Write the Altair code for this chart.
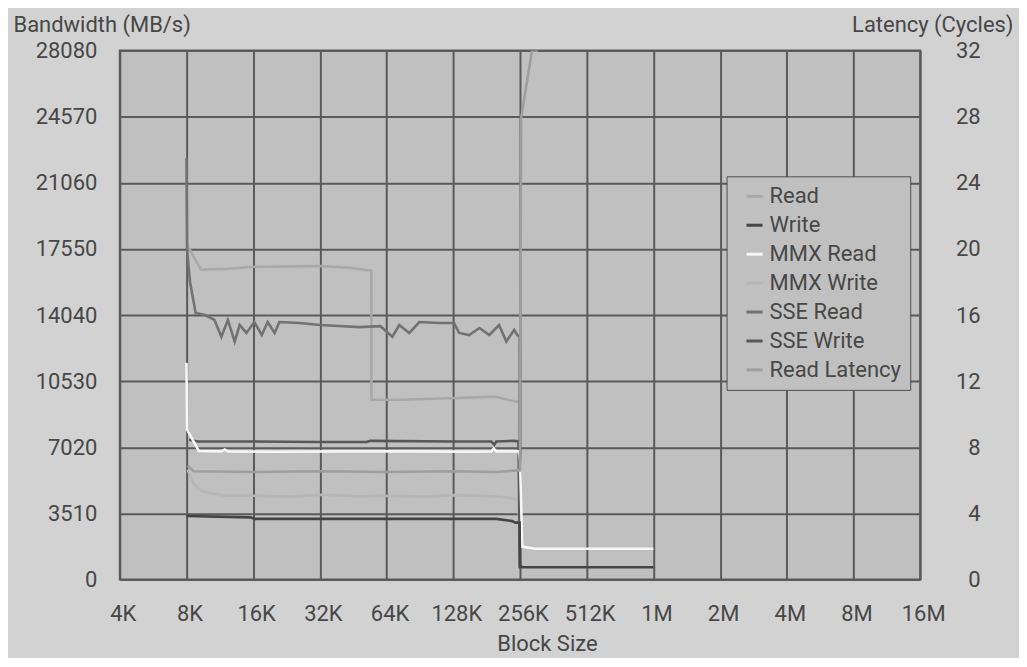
import altair as alt
import pandas as pd

# ---------------- data ----------------
series_names = ["Read", "Write", "MMX Read", "MMX Write", "SSE Read", "SSE Write", "Read Latency"]
series_colors = ["#a8a8a8", "#444444", "#f6f6f6", "#b6b6b6", "#727272", "#585858", "#9e9e9e"]

x_ticks_kb = [4, 8, 16, 32, 64, 128, 256, 512, 1024, 2048, 4096, 8192, 16384]
bw_ticks = [0, 3510, 7020, 10530, 14040, 17550, 21060, 24570, 28080]
lat_ticks = [0, 4, 8, 12, 16, 20, 24, 28, 32]

# Read bandwidth (MB/s)
read_kb = [8.2, 9.3, 12.5, 15.9, 23.3, 31.9, 43.5, 52.5, 54.6, 54.7, 73, 123, 196, 244, 255, 256, 262]
read_mbs = [17600, 16450, 16500, 16600, 16620, 16640, 16550, 16420, 16400, 9540, 9540, 9620, 9710, 9450, 9450, 700, 680]

# Write bandwidth (MB/s)
write_kb = [8.0, 15.5, 16.3, 40, 100, 200, 236, 244, 255, 256, 262, 1024]
write_mbs = [3370, 3300, 3220, 3220, 3220, 3220, 3100, 3020, 3020, 650, 650, 650]

# MMX Read bandwidth (MB/s)
mmx_read_kb = [8.0, 8.05, 8.5, 9.1, 11.5, 11.9, 12.3, 20, 40, 80, 150, 190, 195, 200, 252, 255, 256, 262, 300, 1024]
mmx_read_mbs = [11500, 7950, 7450, 6820, 6800, 6900, 6800, 6780, 6800, 6800, 6790, 6800, 6950, 6800, 6800, 6600, 6400, 1750, 1630, 1630]

# MMX Write bandwidth (MB/s)
mmx_write_kb = [8.1, 8.6, 9.3, 10.5, 12, 16, 24, 32, 48, 64, 96, 128, 192, 240, 252, 256, 262]
mmx_write_mbs = [5830, 5100, 4700, 4560, 4450, 4450, 4400, 4500, 4420, 4450, 4400, 4480, 4420, 4300, 4150, 700, 680]

# SSE Read bandwidth (MB/s)
sse_read_kb = [8.0, 8.05, 8.3, 8.8, 9.7, 10.7, 11.5, 12.3, 13.2, 13.9, 14.9, 16.2, 17.5, 18.6, 20.0, 21.0,
               25.9, 31.9, 39.2, 48.3, 60, 68, 73, 81, 90, 111, 129, 136, 151, 168, 186, 206, 222, 241,
               249, 255, 256, 262]
sse_read_mbs = [22360, 17480, 15800, 14150, 14040, 13780, 12890, 13780, 12630, 13510, 13090, 13670, 12980,
                13670, 13090, 13670, 13620, 13510, 13460, 13400, 13450, 12890, 13510, 13090, 13670, 13620,
                13620, 13090, 12980, 13350, 12980, 13510, 12630, 13250, 12980, 12900, 700, 680]

# SSE Write bandwidth (MB/s)
sse_write_kb = [8.2, 9.0, 16, 32, 52, 54, 128, 190, 196, 200, 240, 252, 256, 262]
sse_write_mbs = [7420, 7330, 7330, 7300, 7300, 7360, 7330, 7330, 7150, 7330, 7360, 7330, 700, 680]

# Read latency (cycles)
lat_kb = [8.1, 8.6, 16, 32, 64, 128, 200, 250, 256, 259, 290, 305, 320, 1024]
lat_cycles = [6.9, 6.55, 6.5, 6.55, 6.5, 6.55, 6.5, 6.6, 6.6, 27.9, 32, 32, 40, 40]

# ---------------- tables ----------------
bw_rows = []
for name, kbs, vals in [
    ("Read", read_kb, read_mbs),
    ("MMX Write", mmx_write_kb, mmx_write_mbs),
    ("SSE Read", sse_read_kb, sse_read_mbs),
    ("SSE Write", sse_write_kb, sse_write_mbs),
    ("MMX Read", mmx_read_kb, mmx_read_mbs),
    ("Write", write_kb, write_mbs),
]:
    for i, (k, v) in enumerate(zip(kbs, vals)):
        bw_rows.append({"series": name, "kb": k, "val": v, "idx": i})
bw_df = pd.DataFrame(bw_rows)

lat_df = pd.DataFrame({"series": "Read Latency", "kb": lat_kb, "val": lat_cycles,
                       "idx": list(range(len(lat_kb)))})

FONT = "Roboto"
FS = 22
TXT = "#474747"
GRID = "#5a5a5a"

x_scale = alt.Scale(type="log", base=2, domain=[4, 16384], nice=False)

x_axis = alt.Axis(values=x_ticks_kb, grid=True, gridColor=GRID, gridWidth=2, gridOpacity=1,
                  ticks=False, tickSize=0, domain=False, labelFlush=False, labelOverlap=False,
                  labelExpr="datum.value >= 1024 ? (datum.value / 1024) + 'M' : datum.value + 'K'",
                  labelFont=FONT, labelFontSize=FS, labelColor=TXT,
                  labelBaseline="alphabetic", labelPadding=41, labelOffset=3,
                  title="Block Size", titleFont=FONT, titleFontSize=FS, titleFontWeight="normal",
                  titleColor=TXT, titleX=428, titleY=71, titleAlign="center",
                  titleBaseline="alphabetic")

color_enc = alt.Color(
    "series:N",
    scale=alt.Scale(domain=series_names, range=series_colors),
    legend=alt.Legend(
        title=None, orient="none", legendX=608, legendY=126,
        symbolType="stroke", symbolSize=260, symbolStrokeWidth=3,
        symbolOffset=8, labelOffset=4,
        labelFont=FONT, labelFontSize=FS, labelColor=TXT,
        fillColor="#c0c0c0", strokeColor="#4e4e4e",
        padding=9, rowPadding=7,
    ),
)

bw = alt.Chart(bw_df).mark_line(strokeWidth=2.6, clip=True).encode(
    x=alt.X("kb:Q", scale=x_scale, axis=x_axis),
    y=alt.Y("val:Q", scale=alt.Scale(domain=[0, 28080], nice=False),
            axis=alt.Axis(values=bw_ticks, format="d", grid=True, gridColor=GRID, gridWidth=2,
                          gridOpacity=1, ticks=False, tickSize=0, domain=False, labelOverlap=False,
                          labelFont=FONT, labelFontSize=FS, labelColor=TXT, labelPadding=23,
                          title="Bandwidth (MB/s)", titleFont=FONT, titleFontSize=FS,
                          titleFontWeight="normal", titleColor=TXT, titleAngle=0,
                          titleX=-107, titleY=-19, titleAlign="left", titleBaseline="alphabetic")),
    color=color_enc,
    order=alt.Order("idx:Q"),
    detail="series:N",
)

lat = alt.Chart(lat_df).mark_line(strokeWidth=2.6, clip=True).encode(
    x=alt.X("kb:Q", scale=x_scale, axis=x_axis),
    y=alt.Y("val:Q", scale=alt.Scale(domain=[0, 32], nice=False),
            axis=alt.Axis(orient="right", values=lat_ticks, grid=False, ticks=False, tickSize=0,
                          domain=False, labelOverlap=False,
                          labelFont=FONT, labelFontSize=FS, labelColor=TXT,
                          labelAlign="right", labelPadding=60,
                          title="Latency (Cycles)", titleFont=FONT, titleFontSize=FS,
                          titleFontWeight="normal", titleColor=TXT, titleAngle=0,
                          titleX=93, titleY=-19, titleAlign="right", titleBaseline="alphabetic")),
    color=color_enc,
    order=alt.Order("idx:Q"),
)

chart = alt.layer(bw, lat).resolve_scale(y="independent").properties(
    width=802, height=530,
    padding={"left": 112, "top": 42, "right": 99, "bottom": 78},
    autosize=alt.AutoSizeParams(type="none"),
    background="#d2d2d2",
).configure_view(fill="#c0c0c0", stroke=GRID, strokeWidth=2)

chart.save("out.html", embed_options={"renderer": "svg", "actions": False})
